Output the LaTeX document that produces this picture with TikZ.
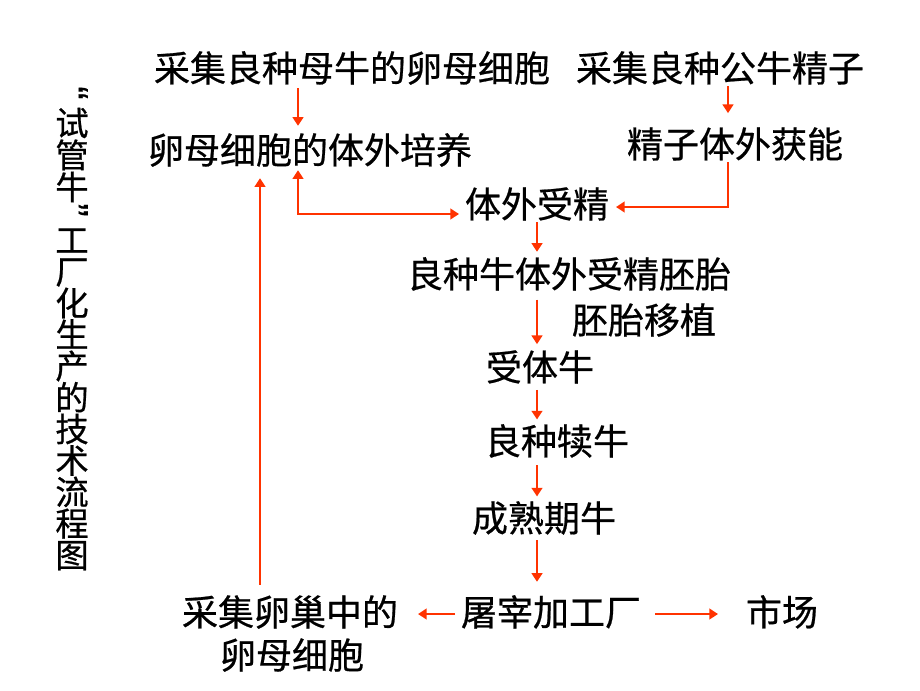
\documentclass[tikz,border=0pt]{standalone}
\usepackage{fontspec}
\newfontfamily\cjk[FakeBold=0.6]{Noto Sans CJK SC}
\newfontfamily\qfont[FakeBold=0.6]{Liberation Sans}
\usetikzlibrary{arrows.meta,calc}
\definecolor{arrred}{RGB}{255,51,0}
\begin{document}
\begin{tikzpicture}[x=0.75pt,y=-0.75pt,
  txt/.style={font=\cjk\fontsize{27pt}{32pt}\selectfont, inner sep=0pt, outer sep=0pt,
    text height=22.4pt, text depth=1.9pt, anchor=center},
  ttl/.style={font=\cjk\fontsize{25pt}{30pt}\selectfont, inner sep=0pt, outer sep=0pt,
    text height=20.7pt, text depth=1.8pt, anchor=center},
  qt/.style={font=\qfont\fontsize{30pt}{32pt}\selectfont, inner sep=0pt, outer sep=0pt, rotate=-90},
  arr/.style={draw=arrred, line width=1.6pt, -{Triangle[length=6.5pt,width=8pt]}},
  dbl/.style={draw=arrred, line width=1.6pt, {Triangle[length=6.5pt,width=8pt]}-{Triangle[length=6.5pt,width=8pt]}}]
\useasboundingbox[fill=white] (0,0) rectangle (920,690);
% title
\node[qt] (q1) at (74,93) {“};
\node[ttl] (g1) at (72,123) {试};
\node[ttl] (g2) at (72,155) {管};
\node[ttl] (g3) at (72,187) {牛};
\node[qt] (q2) at (74,210) {”};
\foreach \c [count=\i from 0] in {工,厂,化,生,产,的,技,术,流,程,图}
  \node[ttl] (h\i) at (72,240+31.5*\i) {\c};
% nodes
\node[txt] (t1) at (352,68) {采集良种母牛的卵母细胞};
\node[txt] (t2) at (720,68) {采集良种公牛精子};
\node[txt] (t3) at (310,150) {卵母细胞的体外培养};
\node[txt] (t4) at (735,144) {精子体外获能};
\node[txt] (t5) at (537,204) {体外受精};
\node[txt] (t6) at (569,274) {良种牛体外受精胚胎};
\node[txt] (t7) at (644,320) {胚胎移植};
\node[txt] (t8) at (540,367) {受体牛};
\node[txt] (t9) at (557,441) {良种犊牛};
\node[txt] (t10) at (544,518) {成熟期牛};
\node[txt] (t11) at (551,612) {屠宰加工厂};
\node[txt] (t12) at (290,612) {采集卵巢中的};
\node[txt] (t13) at (292,655) {卵母细胞};
\node[txt] (t14) at (782,612) {市场};
% x guides
\coordinate (xa) at (298,0);
\coordinate (xb) at (728,0);
\coordinate (xc) at (537,0);
\coordinate (xd) at (260,0);
% arrows
\draw[arr] ([yshift=-3pt]t1.south -| xa) -- ([yshift=6pt]t3.north -| xa);
\draw[arr] ([yshift=-1.5pt]t2.south -| xb) -- ([yshift=11pt]t4.north -| xb);
\draw[arr] ([yshift=-1.5pt]t4.south -| xb) |- ([xshift=5.25pt,yshift=-2.25pt]t5.east);
\draw[dbl] ([yshift=-3pt]t3.south -| xa) |- ([xshift=-4.5pt,yshift=-7.5pt]t5.west);
\draw[arr] ([yshift=-1.5pt]t5.south -| xc) -- ([yshift=4.5pt]t6.north -| xc);
\draw[arr] ([yshift=-7pt]t6.south -| xc) -- ([yshift=5pt]t8.north -| xc);
\draw[arr] ([yshift=-5pt]t8.south -| xc) -- ([yshift=4pt]t9.north -| xc);
\draw[arr] ([yshift=-6pt]t9.south -| xc) -- ([yshift=4pt]t10.north -| xc);
\draw[arr] ([yshift=-4.5pt]t10.south -| xc) -- ([yshift=10.5pt]t11.north -| xc);
\draw[arr] ([xshift=-4.5pt,yshift=-1.5pt]t11.west) -- ([xshift=15pt,yshift=-1.5pt]t12.east);
\draw[arr] ([xshift=10.5pt,yshift=-1.5pt]t11.east) -- ([xshift=-21pt,yshift=-1.5pt]t14.west);
\draw[arr] ([yshift=8.25pt]t12.north -| xd) -- ([yshift=-9pt]t3.south -| xd);
\end{tikzpicture}
\end{document}
